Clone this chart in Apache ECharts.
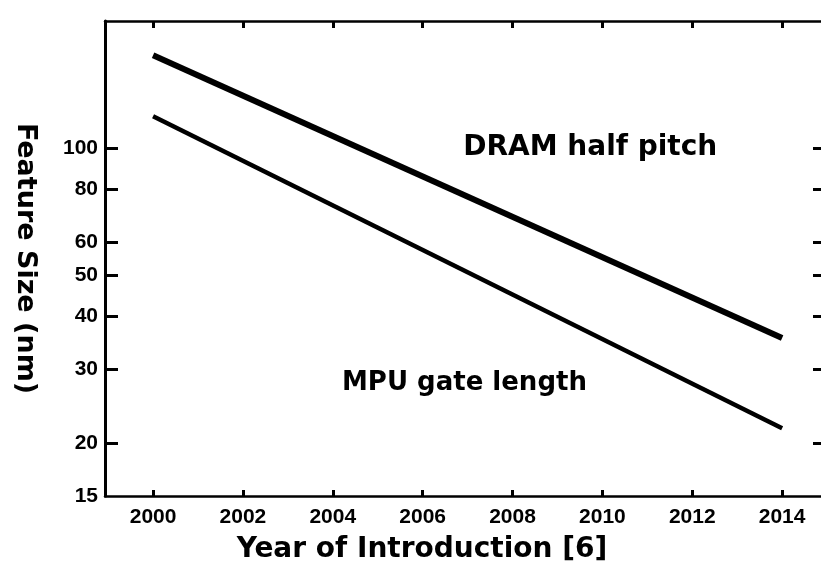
<!DOCTYPE html>
<html>
<head>
<meta charset="utf-8">
<script src="https://cdn.jsdelivr.net/npm/echarts@6/dist/echarts.min.js"></script>
<style>
  html, body { margin: 0; padding: 0; background: #fff; }
  #chart { width: 821px; height: 571px; }
</style>
</head>
<body>
<div id="chart"></div>
<script>
// Roadmap feature sizes (nm), straight lines on a log scale
const years = [2000, 2014];
const dramHalfPitch = [166, 35.5];
const mpuGateLength = [119, 21.7];

// Tick positions
const yearTicks = [2000, 2002, 2004, 2006, 2008, 2010, 2012, 2014];
const sizeLabels = [15, 20, 30, 40, 50, 60, 80, 100];
const sizeTicks = [20, 30, 40, 50, 60, 80, 100];

const black = '#000';
const tickFont = { fontFamily: 'Liberation Sans', fontWeight: 'bold', fontSize: 21, color: black };
const titleFont = { fontFamily: 'DejaVu Sans', fontWeight: 'bold', color: black };

const xRange = { min: 1998.93, max: 2014.91 };
const yRange = { min: 15, max: 200 };

const plain = v => String(Math.round(v));

const chart = echarts.init(document.getElementById('chart'), null, { renderer: 'canvas' });

chart.setOption({
  animation: false,
  backgroundColor: '#fff',
  grid: { left: 105, top: 21, right: -2, bottom: 75, containLabel: false, outerBoundsMode: 'none' },
  xAxis: [
    {
      type: 'value', ...xRange, position: 'bottom',
      name: 'Year of Introduction [6]', nameLocation: 'middle', nameGap: 40,
      nameTextStyle: { ...titleFont, fontSize: 28, padding: [0, 84, 0, 0] },
      axisLine: { show: true, onZero: false, lineStyle: { color: black, width: 2.5 } },
      axisTick: { show: true, inside: true, length: 6, customValues: yearTicks, lineStyle: { color: black, width: 3 } },
      axisLabel: { show: true, customValues: yearTicks, margin: 11, formatter: plain, ...tickFont },
      splitLine: { show: false }
    },
    {
      type: 'value', ...xRange, position: 'top',
      axisLine: { show: true, onZero: false, lineStyle: { color: black, width: 2.5 } },
      axisTick: { show: true, inside: true, length: 7, customValues: yearTicks, lineStyle: { color: black, width: 3 } },
      axisLabel: { show: false },
      splitLine: { show: false }
    }
  ],
  yAxis: [
    {
      type: 'log', logBase: 10, ...yRange, position: 'left',
      name: 'Feature Size (nm)', nameLocation: 'middle', nameRotate: -90, nameGap: 66,
      nameTextStyle: { ...titleFont, fontSize: 27 },
      axisLine: { show: true, onZero: false, lineStyle: { color: black, width: 3 } },
      axisTick: { show: true, inside: true, length: 13, customValues: sizeTicks, lineStyle: { color: black, width: 3 } },
      axisLabel: { show: true, customValues: sizeLabels, margin: 7, formatter: plain, ...tickFont },
      splitLine: { show: false },
      minorTick: { show: false }
    },
    {
      type: 'log', logBase: 10, ...yRange, position: 'right',
      axisLine: { show: true, onZero: false, lineStyle: { color: black, width: 3 } },
      axisTick: { show: true, inside: true, length: 10, customValues: sizeTicks, lineStyle: { color: black, width: 3 } },
      axisLabel: { show: false },
      splitLine: { show: false }
    }
  ],
  series: [
    {
      type: 'line', name: 'DRAM half pitch',
      data: years.map((y, i) => [y, dramHalfPitch[i]]),
      symbol: 'none', showSymbol: false,
      lineStyle: { color: black, width: 6, cap: 'butt' },
      markPoint: {
        symbol: 'circle', symbolSize: 0, silent: true,
        data: [{ coord: [2009.73, 100] }],
        label: { show: true, position: 'inside', formatter: 'DRAM half pitch', ...titleFont, fontSize: 28 }
      }
    },
    {
      type: 'line', name: 'MPU gate length',
      data: years.map((y, i) => [y, mpuGateLength[i]]),
      symbol: 'none', showSymbol: false,
      lineStyle: { color: black, width: 4.5, cap: 'butt' },
      markPoint: {
        symbol: 'circle', symbolSize: 0, silent: true,
        data: [{ coord: [2006.93, 27.8] }],
        label: { show: true, position: 'inside', formatter: 'MPU gate length', ...titleFont, fontSize: 26 }
      }
    }
  ]
});
</script>
</body>
</html>
